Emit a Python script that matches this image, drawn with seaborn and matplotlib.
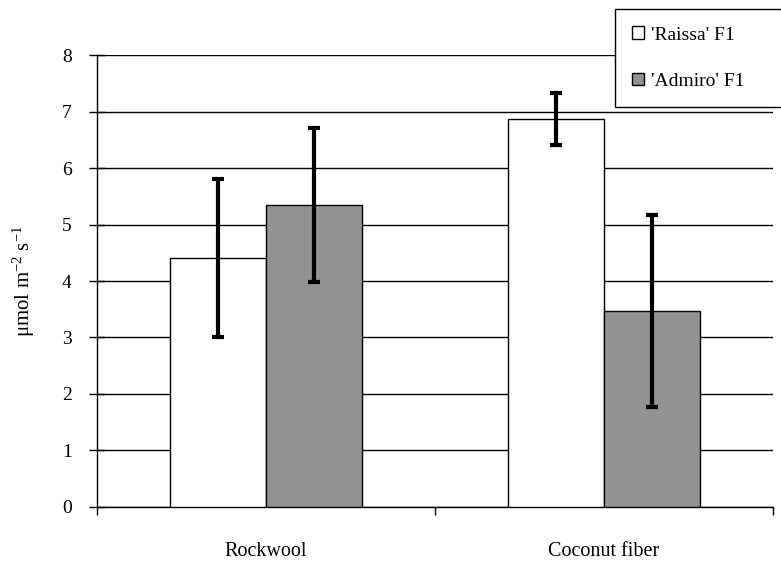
import matplotlib
matplotlib.use("Agg")
import matplotlib.pyplot as plt
import seaborn as sns
import pandas as pd
from matplotlib.patches import Patch

substrates = ["Rockwool", "Coconut fiber"]
cultivars = ["'Raissa' F1", "'Admiro' F1"]
raissa_vals = [4.41, 6.87]
admiro_vals = [5.35, 3.47]
raissa_err = [1.40, 0.46]
admiro_err = [1.36, 1.70]
y_ticks = [0, 1, 2, 3, 4, 5, 6, 7, 8]

df = pd.DataFrame({
    "substrate": substrates * 2,
    "cultivar": [cultivars[0]] * 2 + [cultivars[1]] * 2,
    "value": raissa_vals + admiro_vals,
    "err": raissa_err + admiro_err,
})

sns.set_theme(style="white")
plt.rcParams["font.family"] = ["Liberation Serif", "DejaVu Serif"]
plt.rcParams["mathtext.fontset"] = "custom"
plt.rcParams["mathtext.rm"] = "Liberation Serif"
plt.rcParams["mathtext.it"] = "Liberation Serif"
plt.rcParams["text.color"] = "black"
plt.rcParams["axes.labelcolor"] = "black"

colors = {cultivars[0]: "#ffffff", cultivars[1]: "#929292"}

fig = plt.figure(figsize=(7.81, 5.62), dpi=100)
ax = fig.add_axes([0.124, 0.098, 0.866, 0.804])

sns.barplot(data=df, x="substrate", y="value", hue="cultivar", hue_order=cultivars,
            order=substrates, palette=colors, width=0.57, edgecolor="black",
            linewidth=1.0, errorbar=None, legend=False, ax=ax, zorder=3)

# error bars at bar centres
for bar, err in zip(ax.patches, df["err"]):
    cx = bar.get_x() + bar.get_width() / 2
    ax.errorbar(cx, bar.get_height(), yerr=err, fmt="none", ecolor="black",
                elinewidth=3, capsize=4.5, capthick=3, zorder=4)

ax.set_xlim(-0.5, 1.5)
ax.set_ylim(0, 8)
ax.set_yticks(y_ticks)
ax.yaxis.grid(True, color="black", linewidth=1.0, zorder=0)
ax.set_axisbelow(True)
for s in ["top", "right"]:
    ax.spines[s].set_visible(False)
for s in ["left", "bottom"]:
    ax.spines[s].set_color("black")
    ax.spines[s].set_linewidth(1.0)

ax.set_xticks([-0.5, 0.5, 1.5])
ax.set_xticklabels([])
ax.set_xticks([0, 1], minor=True)
ax.set_xticklabels(substrates, minor=True, fontsize=14.5)
ax.tick_params(axis="x", which="major", direction="out", length=6, width=1,
               color="black", bottom=True)
ax.tick_params(axis="x", which="minor", length=0, pad=25, labelcolor="black")
ax.tick_params(axis="y", direction="inout", length=12, width=1, color="black",
               labelcolor="black", left=True, labelsize=14, pad=12)
ax.set_xlabel("")
ax.set_ylabel(r"$\mathregular{\mu mol\ m^{-2}\ s^{-1}}$", fontsize=15, labelpad=18)

handles = [Patch(facecolor=colors[c], edgecolor="black", linewidth=1) for c in cultivars]
leg = fig.legend(handles, cultivars, loc="upper left",
                 bbox_to_anchor=(0.787, 0.0, 0.25, 0.984), mode="expand",
                 frameon=True, fancybox=False, framealpha=1.0, fontsize=14,
                 handlelength=0.62, handleheight=0.62, handletextpad=0.35,
                 labelspacing=1.5, borderpad=0.9, borderaxespad=0)
leg.get_frame().set_edgecolor("black")
leg.get_frame().set_facecolor("white")
leg.get_frame().set_linewidth(1.0)

fig.savefig("out.png", dpi=100)
